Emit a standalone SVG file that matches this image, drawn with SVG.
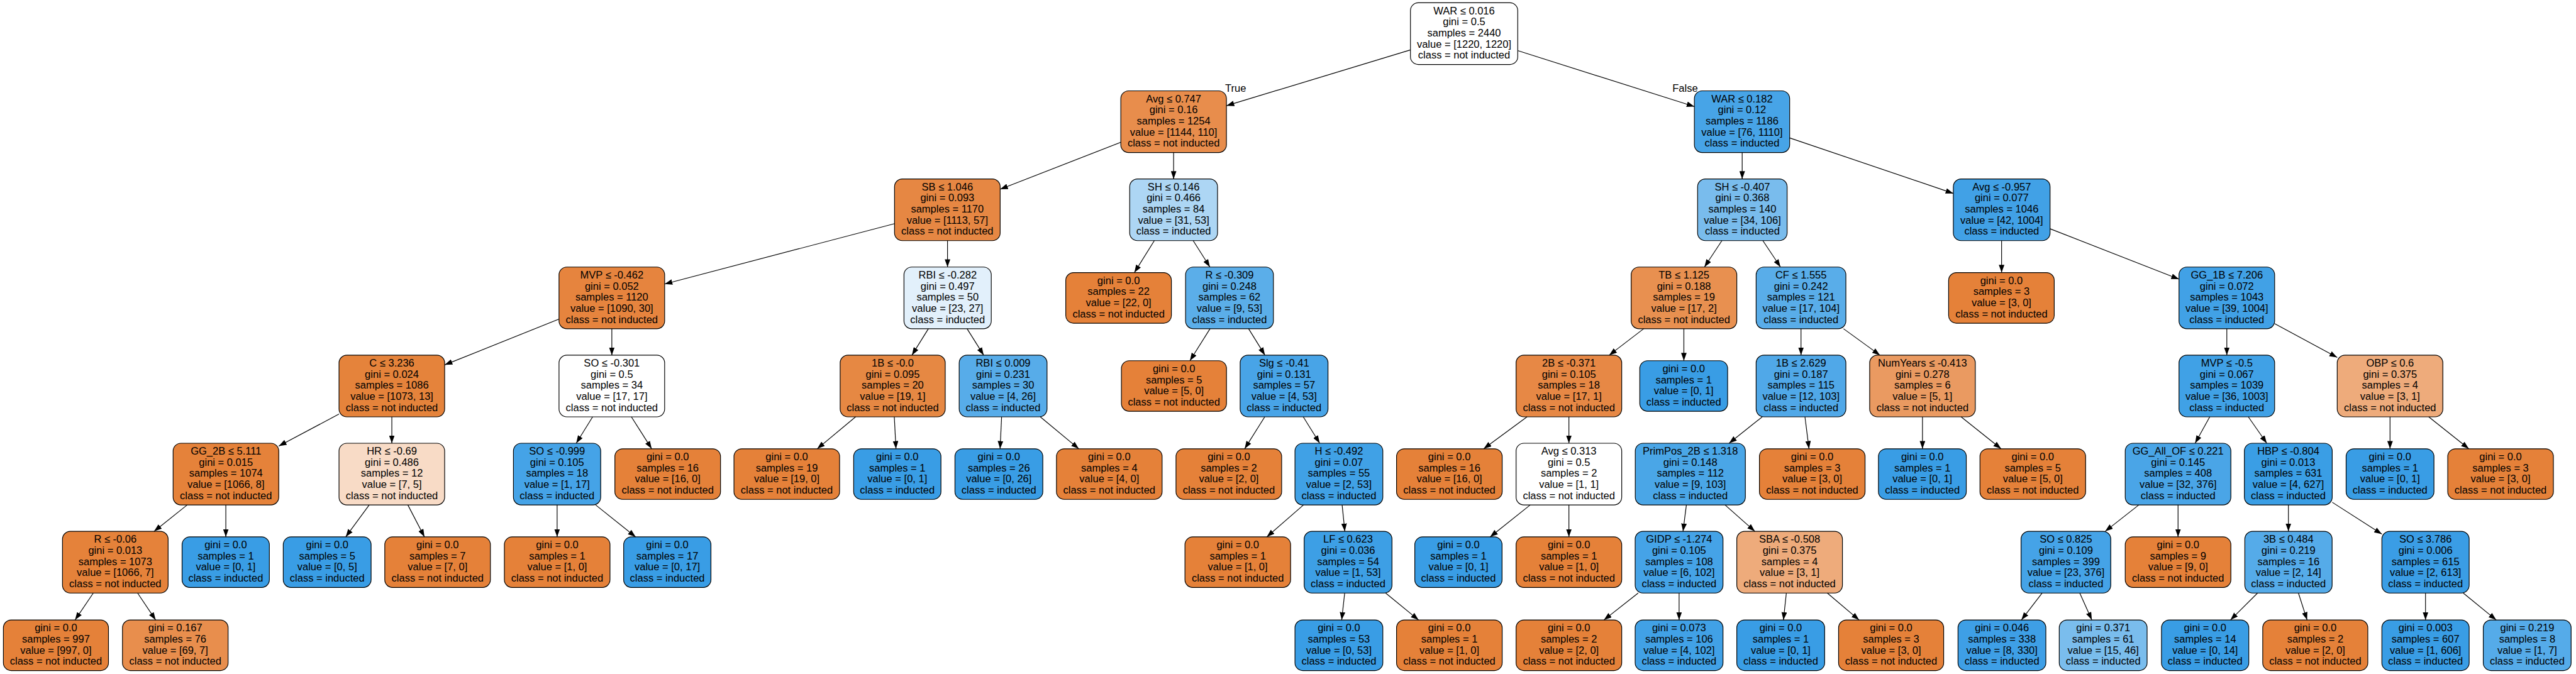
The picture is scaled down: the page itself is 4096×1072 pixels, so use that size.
<svg xmlns="http://www.w3.org/2000/svg" width="4096" height="1072" viewBox="0 0 4096 1072">
<style>
.nd rect{stroke:#000;stroke-width:1.33}
.nd text,.lbl{font-family:"Liberation Sans",Arial,Helvetica,sans-serif;font-size:18.7px;fill:#000}
.nd text{text-anchor:middle}
.lbl{text-anchor:middle}
#edges path{stroke:#000;stroke-width:1.33;fill:none;marker-end:url(#arr)}
</style>
<defs>
<marker id="arr" viewBox="0 0 14 10" refX="14" refY="5" markerWidth="14" markerHeight="10" markerUnits="userSpaceOnUse" orient="auto"><path d="M0,0L14,5L0,10Z" fill="#000"/></marker>
</defs>
<rect width="4096" height="1072" fill="#fff"/>
<g transform="scale(0.884)">
<g id="nodes" class="nd">
<g id="n0"><rect x="2537" y="5" width="193" height="111" rx="14" fill="#ffffff"/><text y="25.5"><tspan x="2633.5">WAR ≤ 0.016</tspan><tspan x="2633.5" dy="20">gini = 0.5</tspan><tspan x="2633.5" dy="20">samples = 2440</tspan><tspan x="2633.5" dy="20">value = [1220, 1220]</tspan><tspan x="2633.5" dy="20">class = not inducted</tspan></text></g>
<g id="n1"><rect x="2016" y="163.5" width="190" height="111" rx="14" fill="#e88d4c"/><text y="184"><tspan x="2111">Avg ≤ 0.747</tspan><tspan x="2111" dy="20">gini = 0.16</tspan><tspan x="2111" dy="20">samples = 1254</tspan><tspan x="2111" dy="20">value = [1144, 110]</tspan><tspan x="2111" dy="20">class = not inducted</tspan></text></g>
<g id="n2"><rect x="3047.7" y="163.5" width="171.4" height="111" rx="14" fill="#47a4e7"/><text y="184"><tspan x="3133.4">WAR ≤ 0.182</tspan><tspan x="3133.4" dy="20">gini = 0.12</tspan><tspan x="3133.4" dy="20">samples = 1186</tspan><tspan x="3133.4" dy="20">value = [76, 1110]</tspan><tspan x="3133.4" dy="20">class = inducted</tspan></text></g>
<g id="n3"><rect x="1609" y="322" width="190" height="111" rx="14" fill="#e68743"/><text y="342.5"><tspan x="1704">SB ≤ 1.046</tspan><tspan x="1704" dy="20">gini = 0.093</tspan><tspan x="1704" dy="20">samples = 1170</tspan><tspan x="1704" dy="20">value = [1113, 57]</tspan><tspan x="1704" dy="20">class = not inducted</tspan></text></g>
<g id="n4"><rect x="2032" y="322" width="158" height="111" rx="14" fill="#add6f4"/><text y="342.5"><tspan x="2111">SH ≤ 0.146</tspan><tspan x="2111" dy="20">gini = 0.466</tspan><tspan x="2111" dy="20">samples = 84</tspan><tspan x="2111" dy="20">value = [31, 53]</tspan><tspan x="2111" dy="20">class = inducted</tspan></text></g>
<g id="n5"><rect x="3053.5" y="322" width="161" height="111" rx="14" fill="#79bced"/><text y="342.5"><tspan x="3134">SH ≤ -0.407</tspan><tspan x="3134" dy="20">gini = 0.368</tspan><tspan x="3134" dy="20">samples = 140</tspan><tspan x="3134" dy="20">value = [34, 106]</tspan><tspan x="3134" dy="20">class = inducted</tspan></text></g>
<g id="n6"><rect x="3513.5" y="322" width="174" height="111" rx="14" fill="#41a1e6"/><text y="342.5"><tspan x="3600.5">Avg ≤ -0.957</tspan><tspan x="3600.5" dy="20">gini = 0.077</tspan><tspan x="3600.5" dy="20">samples = 1046</tspan><tspan x="3600.5" dy="20">value = [42, 1004]</tspan><tspan x="3600.5" dy="20">class = inducted</tspan></text></g>
<g id="n7"><rect x="1005.5" y="480.5" width="190" height="111" rx="14" fill="#e6843e"/><text y="501"><tspan x="1100.5">MVP ≤ -0.462</tspan><tspan x="1100.5" dy="20">gini = 0.052</tspan><tspan x="1100.5" dy="20">samples = 1120</tspan><tspan x="1100.5" dy="20">value = [1090, 30]</tspan><tspan x="1100.5" dy="20">class = not inducted</tspan></text></g>
<g id="n8"><rect x="1626" y="480.5" width="157" height="111" rx="14" fill="#e2f0fb"/><text y="501"><tspan x="1704.5">RBI ≤ -0.282</tspan><tspan x="1704.5" dy="20">gini = 0.497</tspan><tspan x="1704.5" dy="20">samples = 50</tspan><tspan x="1704.5" dy="20">value = [23, 27]</tspan><tspan x="1704.5" dy="20">class = inducted</tspan></text></g>
<g id="n9"><rect x="1917" y="490.5" width="190" height="91" rx="14" fill="#e58139"/><text y="511"><tspan x="2012">gini = 0.0</tspan><tspan x="2012" dy="20">samples = 22</tspan><tspan x="2012" dy="20">value = [22, 0]</tspan><tspan x="2012" dy="20">class = not inducted</tspan></text></g>
<g id="n10"><rect x="2132.5" y="480.5" width="158" height="111" rx="14" fill="#5baee9"/><text y="501"><tspan x="2211.5">R ≤ -0.309</tspan><tspan x="2211.5" dy="20">gini = 0.248</tspan><tspan x="2211.5" dy="20">samples = 62</tspan><tspan x="2211.5" dy="20">value = [9, 53]</tspan><tspan x="2211.5" dy="20">class = inducted</tspan></text></g>
<g id="n11"><rect x="2934" y="480.5" width="190" height="111" rx="14" fill="#e89050"/><text y="501"><tspan x="3029">TB ≤ 1.125</tspan><tspan x="3029" dy="20">gini = 0.188</tspan><tspan x="3029" dy="20">samples = 19</tspan><tspan x="3029" dy="20">value = [17, 2]</tspan><tspan x="3029" dy="20">class = not inducted</tspan></text></g>
<g id="n12"><rect x="3158.8" y="480.5" width="161.4" height="111" rx="14" fill="#59ade9"/><text y="501"><tspan x="3239.5">CF ≤ 1.555</tspan><tspan x="3239.5" dy="20">gini = 0.242</tspan><tspan x="3239.5" dy="20">samples = 121</tspan><tspan x="3239.5" dy="20">value = [17, 104]</tspan><tspan x="3239.5" dy="20">class = inducted</tspan></text></g>
<g id="n13"><rect x="3505" y="490.5" width="190" height="91" rx="14" fill="#e58139"/><text y="511"><tspan x="3600">gini = 0.0</tspan><tspan x="3600" dy="20">samples = 3</tspan><tspan x="3600" dy="20">value = [3, 0]</tspan><tspan x="3600" dy="20">class = not inducted</tspan></text></g>
<g id="n14"><rect x="3919.4" y="480.5" width="172" height="111" rx="14" fill="#41a1e6"/><text y="501"><tspan x="4005.4">GG_1B ≤ 7.206</tspan><tspan x="4005.4" dy="20">gini = 0.072</tspan><tspan x="4005.4" dy="20">samples = 1043</tspan><tspan x="4005.4" dy="20">value = [39, 1004]</tspan><tspan x="4005.4" dy="20">class = inducted</tspan></text></g>
<g id="n15"><rect x="609.8" y="639" width="190" height="111" rx="14" fill="#e5833b"/><text y="659.5"><tspan x="704.8">C ≤ 3.236</tspan><tspan x="704.8" dy="20">gini = 0.024</tspan><tspan x="704.8" dy="20">samples = 1086</tspan><tspan x="704.8" dy="20">value = [1073, 13]</tspan><tspan x="704.8" dy="20">class = not inducted</tspan></text></g>
<g id="n16"><rect x="1005.5" y="639" width="190" height="111" rx="14" fill="#ffffff"/><text y="659.5"><tspan x="1100.5">SO ≤ -0.301</tspan><tspan x="1100.5" dy="20">gini = 0.5</tspan><tspan x="1100.5" dy="20">samples = 34</tspan><tspan x="1100.5" dy="20">value = [17, 17]</tspan><tspan x="1100.5" dy="20">class = not inducted</tspan></text></g>
<g id="n17"><rect x="1511.2" y="639" width="189" height="111" rx="14" fill="#e68843"/><text y="659.5"><tspan x="1605.7">1B ≤ -0.0</tspan><tspan x="1605.7" dy="20">gini = 0.095</tspan><tspan x="1605.7" dy="20">samples = 20</tspan><tspan x="1605.7" dy="20">value = [19, 1]</tspan><tspan x="1605.7" dy="20">class = not inducted</tspan></text></g>
<g id="n18"><rect x="1725.3" y="639" width="158" height="111" rx="14" fill="#57ace9"/><text y="659.5"><tspan x="1804.3">RBI ≤ 0.009</tspan><tspan x="1804.3" dy="20">gini = 0.231</tspan><tspan x="1804.3" dy="20">samples = 30</tspan><tspan x="1804.3" dy="20">value = [4, 26]</tspan><tspan x="1804.3" dy="20">class = inducted</tspan></text></g>
<g id="n19"><rect x="2017.1" y="649" width="189" height="91" rx="14" fill="#e58139"/><text y="669.5"><tspan x="2111.6">gini = 0.0</tspan><tspan x="2111.6" dy="20">samples = 5</tspan><tspan x="2111.6" dy="20">value = [5, 0]</tspan><tspan x="2111.6" dy="20">class = not inducted</tspan></text></g>
<g id="n20"><rect x="2230.7" y="639" width="158" height="111" rx="14" fill="#48a4e7"/><text y="659.5"><tspan x="2309.7">Slg ≤ -0.41</tspan><tspan x="2309.7" dy="20">gini = 0.131</tspan><tspan x="2309.7" dy="20">samples = 57</tspan><tspan x="2309.7" dy="20">value = [4, 53]</tspan><tspan x="2309.7" dy="20">class = inducted</tspan></text></g>
<g id="n21"><rect x="2727" y="639" width="190" height="111" rx="14" fill="#e78845"/><text y="659.5"><tspan x="2822">2B ≤ -0.371</tspan><tspan x="2822" dy="20">gini = 0.105</tspan><tspan x="2822" dy="20">samples = 18</tspan><tspan x="2822" dy="20">value = [17, 1]</tspan><tspan x="2822" dy="20">class = not inducted</tspan></text></g>
<g id="n22"><rect x="2949.5" y="649" width="158" height="91" rx="14" fill="#399de5"/><text y="669.5"><tspan x="3028.5">gini = 0.0</tspan><tspan x="3028.5" dy="20">samples = 1</tspan><tspan x="3028.5" dy="20">value = [0, 1]</tspan><tspan x="3028.5" dy="20">class = inducted</tspan></text></g>
<g id="n23"><rect x="3158.8" y="639" width="161.4" height="111" rx="14" fill="#50a8e8"/><text y="659.5"><tspan x="3239.5">1B ≤ 2.629</tspan><tspan x="3239.5" dy="20">gini = 0.187</tspan><tspan x="3239.5" dy="20">samples = 115</tspan><tspan x="3239.5" dy="20">value = [12, 103]</tspan><tspan x="3239.5" dy="20">class = inducted</tspan></text></g>
<g id="n24"><rect x="3363" y="639" width="190" height="111" rx="14" fill="#ea9a61"/><text y="659.5"><tspan x="3458">NumYears ≤ -0.413</tspan><tspan x="3458" dy="20">gini = 0.278</tspan><tspan x="3458" dy="20">samples = 6</tspan><tspan x="3458" dy="20">value = [5, 1]</tspan><tspan x="3458" dy="20">class = not inducted</tspan></text></g>
<g id="n25"><rect x="3919.4" y="639" width="172" height="111" rx="14" fill="#40a1e6"/><text y="659.5"><tspan x="4005.4">MVP ≤ -0.5</tspan><tspan x="4005.4" dy="20">gini = 0.067</tspan><tspan x="4005.4" dy="20">samples = 1039</tspan><tspan x="4005.4" dy="20">value = [36, 1003]</tspan><tspan x="4005.4" dy="20">class = inducted</tspan></text></g>
<g id="n26"><rect x="4204" y="639" width="190" height="111" rx="14" fill="#eeab7b"/><text y="659.5"><tspan x="4299">OBP ≤ 0.6</tspan><tspan x="4299" dy="20">gini = 0.375</tspan><tspan x="4299" dy="20">samples = 4</tspan><tspan x="4299" dy="20">value = [3, 1]</tspan><tspan x="4299" dy="20">class = not inducted</tspan></text></g>
<g id="n27"><rect x="311.4" y="797.5" width="190" height="111" rx="14" fill="#e5823a"/><text y="818"><tspan x="406.4">GG_2B ≤ 5.111</tspan><tspan x="406.4" dy="20">gini = 0.015</tspan><tspan x="406.4" dy="20">samples = 1074</tspan><tspan x="406.4" dy="20">value = [1066, 8]</tspan><tspan x="406.4" dy="20">class = not inducted</tspan></text></g>
<g id="n28"><rect x="609.8" y="797.5" width="190" height="111" rx="14" fill="#f8dbc6"/><text y="818"><tspan x="704.8">HR ≤ -0.69</tspan><tspan x="704.8" dy="20">gini = 0.486</tspan><tspan x="704.8" dy="20">samples = 12</tspan><tspan x="704.8" dy="20">value = [7, 5]</tspan><tspan x="704.8" dy="20">class = not inducted</tspan></text></g>
<g id="n29"><rect x="923.5" y="797.5" width="157" height="111" rx="14" fill="#45a3e7"/><text y="818"><tspan x="1002">SO ≤ -0.999</tspan><tspan x="1002" dy="20">gini = 0.105</tspan><tspan x="1002" dy="20">samples = 18</tspan><tspan x="1002" dy="20">value = [1, 17]</tspan><tspan x="1002" dy="20">class = inducted</tspan></text></g>
<g id="n30"><rect x="1106" y="807.5" width="190" height="91" rx="14" fill="#e58139"/><text y="828"><tspan x="1201">gini = 0.0</tspan><tspan x="1201" dy="20">samples = 16</tspan><tspan x="1201" dy="20">value = [16, 0]</tspan><tspan x="1201" dy="20">class = not inducted</tspan></text></g>
<g id="n31"><rect x="1320.2" y="807.5" width="190" height="91" rx="14" fill="#e58139"/><text y="828"><tspan x="1415.2">gini = 0.0</tspan><tspan x="1415.2" dy="20">samples = 19</tspan><tspan x="1415.2" dy="20">value = [19, 0]</tspan><tspan x="1415.2" dy="20">class = not inducted</tspan></text></g>
<g id="n32"><rect x="1535.5" y="807.5" width="157" height="91" rx="14" fill="#399de5"/><text y="828"><tspan x="1614">gini = 0.0</tspan><tspan x="1614" dy="20">samples = 1</tspan><tspan x="1614" dy="20">value = [0, 1]</tspan><tspan x="1614" dy="20">class = inducted</tspan></text></g>
<g id="n33"><rect x="1717.7" y="807.5" width="158" height="91" rx="14" fill="#399de5"/><text y="828"><tspan x="1796.7">gini = 0.0</tspan><tspan x="1796.7" dy="20">samples = 26</tspan><tspan x="1796.7" dy="20">value = [0, 26]</tspan><tspan x="1796.7" dy="20">class = inducted</tspan></text></g>
<g id="n34"><rect x="1900.3" y="807.5" width="190" height="91" rx="14" fill="#e58139"/><text y="828"><tspan x="1995.3">gini = 0.0</tspan><tspan x="1995.3" dy="20">samples = 4</tspan><tspan x="1995.3" dy="20">value = [4, 0]</tspan><tspan x="1995.3" dy="20">class = not inducted</tspan></text></g>
<g id="n35"><rect x="2115.3" y="807.5" width="190" height="91" rx="14" fill="#e58139"/><text y="828"><tspan x="2210.3">gini = 0.0</tspan><tspan x="2210.3" dy="20">samples = 2</tspan><tspan x="2210.3" dy="20">value = [2, 0]</tspan><tspan x="2210.3" dy="20">class = not inducted</tspan></text></g>
<g id="n36"><rect x="2329.3" y="797.5" width="158" height="111" rx="14" fill="#40a1e6"/><text y="818"><tspan x="2408.3">H ≤ -0.492</tspan><tspan x="2408.3" dy="20">gini = 0.07</tspan><tspan x="2408.3" dy="20">samples = 55</tspan><tspan x="2408.3" dy="20">value = [2, 53]</tspan><tspan x="2408.3" dy="20">class = inducted</tspan></text></g>
<g id="n37"><rect x="2512" y="807.5" width="190" height="91" rx="14" fill="#e58139"/><text y="828"><tspan x="2607">gini = 0.0</tspan><tspan x="2607" dy="20">samples = 16</tspan><tspan x="2607" dy="20">value = [16, 0]</tspan><tspan x="2607" dy="20">class = not inducted</tspan></text></g>
<g id="n38"><rect x="2727" y="797.5" width="190" height="111" rx="14" fill="#ffffff"/><text y="818"><tspan x="2822">Avg ≤ 0.313</tspan><tspan x="2822" dy="20">gini = 0.5</tspan><tspan x="2822" dy="20">samples = 2</tspan><tspan x="2822" dy="20">value = [1, 1]</tspan><tspan x="2822" dy="20">class = not inducted</tspan></text></g>
<g id="n39"><rect x="2941.4" y="797.5" width="198" height="111" rx="14" fill="#4aa6e7"/><text y="818"><tspan x="3040.4">PrimPos_2B ≤ 1.318</tspan><tspan x="3040.4" dy="20">gini = 0.148</tspan><tspan x="3040.4" dy="20">samples = 112</tspan><tspan x="3040.4" dy="20">value = [9, 103]</tspan><tspan x="3040.4" dy="20">class = inducted</tspan></text></g>
<g id="n40"><rect x="3164.7" y="807.5" width="190" height="91" rx="14" fill="#e58139"/><text y="828"><tspan x="3259.7">gini = 0.0</tspan><tspan x="3259.7" dy="20">samples = 3</tspan><tspan x="3259.7" dy="20">value = [3, 0]</tspan><tspan x="3259.7" dy="20">class = not inducted</tspan></text></g>
<g id="n41"><rect x="3378.8" y="807.5" width="158" height="91" rx="14" fill="#399de5"/><text y="828"><tspan x="3457.8">gini = 0.0</tspan><tspan x="3457.8" dy="20">samples = 1</tspan><tspan x="3457.8" dy="20">value = [0, 1]</tspan><tspan x="3457.8" dy="20">class = inducted</tspan></text></g>
<g id="n42"><rect x="3561.4" y="807.5" width="190" height="91" rx="14" fill="#e58139"/><text y="828"><tspan x="3656.4">gini = 0.0</tspan><tspan x="3656.4" dy="20">samples = 5</tspan><tspan x="3656.4" dy="20">value = [5, 0]</tspan><tspan x="3656.4" dy="20">class = not inducted</tspan></text></g>
<g id="n43"><rect x="3822.7" y="797.5" width="190" height="111" rx="14" fill="#4aa5e7"/><text y="818"><tspan x="3917.7">GG_All_OF ≤ 0.221</tspan><tspan x="3917.7" dy="20">gini = 0.145</tspan><tspan x="3917.7" dy="20">samples = 408</tspan><tspan x="3917.7" dy="20">value = [32, 376]</tspan><tspan x="3917.7" dy="20">class = inducted</tspan></text></g>
<g id="n44"><rect x="4037" y="797.5" width="158" height="111" rx="14" fill="#3a9ee5"/><text y="818"><tspan x="4116">HBP ≤ -0.804</tspan><tspan x="4116" dy="20">gini = 0.013</tspan><tspan x="4116" dy="20">samples = 631</tspan><tspan x="4116" dy="20">value = [4, 627]</tspan><tspan x="4116" dy="20">class = inducted</tspan></text></g>
<g id="n45"><rect x="4220" y="807.5" width="158" height="91" rx="14" fill="#399de5"/><text y="828"><tspan x="4299">gini = 0.0</tspan><tspan x="4299" dy="20">samples = 1</tspan><tspan x="4299" dy="20">value = [0, 1]</tspan><tspan x="4299" dy="20">class = inducted</tspan></text></g>
<g id="n46"><rect x="4402.8" y="807.5" width="190" height="91" rx="14" fill="#e58139"/><text y="828"><tspan x="4497.8">gini = 0.0</tspan><tspan x="4497.8" dy="20">samples = 3</tspan><tspan x="4497.8" dy="20">value = [3, 0]</tspan><tspan x="4497.8" dy="20">class = not inducted</tspan></text></g>
<g id="n47"><rect x="112.4" y="956" width="190" height="111" rx="14" fill="#e5823a"/><text y="976.5"><tspan x="207.4">R ≤ -0.06</tspan><tspan x="207.4" dy="20">gini = 0.013</tspan><tspan x="207.4" dy="20">samples = 1073</tspan><tspan x="207.4" dy="20">value = [1066, 7]</tspan><tspan x="207.4" dy="20">class = not inducted</tspan></text></g>
<g id="n48"><rect x="327.5" y="966" width="157" height="91" rx="14" fill="#399de5"/><text y="986.5"><tspan x="406">gini = 0.0</tspan><tspan x="406" dy="20">samples = 1</tspan><tspan x="406" dy="20">value = [0, 1]</tspan><tspan x="406" dy="20">class = inducted</tspan></text></g>
<g id="n49"><rect x="509.5" y="966" width="158" height="91" rx="14" fill="#399de5"/><text y="986.5"><tspan x="588.5">gini = 0.0</tspan><tspan x="588.5" dy="20">samples = 5</tspan><tspan x="588.5" dy="20">value = [0, 5]</tspan><tspan x="588.5" dy="20">class = inducted</tspan></text></g>
<g id="n50"><rect x="692.1" y="966" width="190" height="91" rx="14" fill="#e58139"/><text y="986.5"><tspan x="787.1">gini = 0.0</tspan><tspan x="787.1" dy="20">samples = 7</tspan><tspan x="787.1" dy="20">value = [7, 0]</tspan><tspan x="787.1" dy="20">class = not inducted</tspan></text></g>
<g id="n51"><rect x="907.2" y="966" width="190" height="91" rx="14" fill="#e58139"/><text y="986.5"><tspan x="1002.2">gini = 0.0</tspan><tspan x="1002.2" dy="20">samples = 1</tspan><tspan x="1002.2" dy="20">value = [1, 0]</tspan><tspan x="1002.2" dy="20">class = not inducted</tspan></text></g>
<g id="n52"><rect x="1121.8" y="966" width="157" height="91" rx="14" fill="#399de5"/><text y="986.5"><tspan x="1200.3">gini = 0.0</tspan><tspan x="1200.3" dy="20">samples = 17</tspan><tspan x="1200.3" dy="20">value = [0, 17]</tspan><tspan x="1200.3" dy="20">class = inducted</tspan></text></g>
<g id="n53"><rect x="2131.4" y="966" width="190" height="91" rx="14" fill="#e58139"/><text y="986.5"><tspan x="2226.4">gini = 0.0</tspan><tspan x="2226.4" dy="20">samples = 1</tspan><tspan x="2226.4" dy="20">value = [1, 0]</tspan><tspan x="2226.4" dy="20">class = not inducted</tspan></text></g>
<g id="n54"><rect x="2345.8" y="956" width="158" height="111" rx="14" fill="#3d9fe5"/><text y="976.5"><tspan x="2424.8">LF ≤ 0.623</tspan><tspan x="2424.8" dy="20">gini = 0.036</tspan><tspan x="2424.8" dy="20">samples = 54</tspan><tspan x="2424.8" dy="20">value = [1, 53]</tspan><tspan x="2424.8" dy="20">class = inducted</tspan></text></g>
<g id="n55"><rect x="2544.8" y="966" width="157" height="91" rx="14" fill="#399de5"/><text y="986.5"><tspan x="2623.3">gini = 0.0</tspan><tspan x="2623.3" dy="20">samples = 1</tspan><tspan x="2623.3" dy="20">value = [0, 1]</tspan><tspan x="2623.3" dy="20">class = inducted</tspan></text></g>
<g id="n56"><rect x="2727" y="966" width="190" height="91" rx="14" fill="#e58139"/><text y="986.5"><tspan x="2822">gini = 0.0</tspan><tspan x="2822" dy="20">samples = 1</tspan><tspan x="2822" dy="20">value = [1, 0]</tspan><tspan x="2822" dy="20">class = not inducted</tspan></text></g>
<g id="n57"><rect x="2941.2" y="956" width="158" height="111" rx="14" fill="#45a3e7"/><text y="976.5"><tspan x="3020.2">GIDP ≤ -1.274</tspan><tspan x="3020.2" dy="20">gini = 0.105</tspan><tspan x="3020.2" dy="20">samples = 108</tspan><tspan x="3020.2" dy="20">value = [6, 102]</tspan><tspan x="3020.2" dy="20">class = inducted</tspan></text></g>
<g id="n58"><rect x="3124" y="956" width="190" height="111" rx="14" fill="#eeab7b"/><text y="976.5"><tspan x="3219">SBA ≤ -0.508</tspan><tspan x="3219" dy="20">gini = 0.375</tspan><tspan x="3219" dy="20">samples = 4</tspan><tspan x="3219" dy="20">value = [3, 1]</tspan><tspan x="3219" dy="20">class = not inducted</tspan></text></g>
<g id="n59"><rect x="3635.3" y="956" width="161.4" height="111" rx="14" fill="#45a3e7"/><text y="976.5"><tspan x="3716">SO ≤ 0.825</tspan><tspan x="3716" dy="20">gini = 0.109</tspan><tspan x="3716" dy="20">samples = 399</tspan><tspan x="3716" dy="20">value = [23, 376]</tspan><tspan x="3716" dy="20">class = inducted</tspan></text></g>
<g id="n60"><rect x="3822.7" y="966" width="190" height="91" rx="14" fill="#e58139"/><text y="986.5"><tspan x="3917.7">gini = 0.0</tspan><tspan x="3917.7" dy="20">samples = 9</tspan><tspan x="3917.7" dy="20">value = [9, 0]</tspan><tspan x="3917.7" dy="20">class = not inducted</tspan></text></g>
<g id="n61"><rect x="4037.8" y="956" width="157" height="111" rx="14" fill="#55abe9"/><text y="976.5"><tspan x="4116.3">3B ≤ 0.484</tspan><tspan x="4116.3" dy="20">gini = 0.219</tspan><tspan x="4116.3" dy="20">samples = 16</tspan><tspan x="4116.3" dy="20">value = [2, 14]</tspan><tspan x="4116.3" dy="20">class = inducted</tspan></text></g>
<g id="n62"><rect x="4284.3" y="956" width="157" height="111" rx="14" fill="#3a9de5"/><text y="976.5"><tspan x="4362.8">SO ≤ 3.786</tspan><tspan x="4362.8" dy="20">gini = 0.006</tspan><tspan x="4362.8" dy="20">samples = 615</tspan><tspan x="4362.8" dy="20">value = [2, 613]</tspan><tspan x="4362.8" dy="20">class = inducted</tspan></text></g>
<g id="n63"><rect x="6.1" y="1115.5" width="189" height="91" rx="14" fill="#e58139"/><text y="1136"><tspan x="100.6">gini = 0.0</tspan><tspan x="100.6" dy="20">samples = 997</tspan><tspan x="100.6" dy="20">value = [997, 0]</tspan><tspan x="100.6" dy="20">class = not inducted</tspan></text></g>
<g id="n64"><rect x="220.3" y="1115.5" width="190" height="91" rx="14" fill="#e88e4d"/><text y="1136"><tspan x="315.3">gini = 0.167</tspan><tspan x="315.3" dy="20">samples = 76</tspan><tspan x="315.3" dy="20">value = [69, 7]</tspan><tspan x="315.3" dy="20">class = not inducted</tspan></text></g>
<g id="n65"><rect x="2329.3" y="1115.5" width="158" height="91" rx="14" fill="#399de5"/><text y="1136"><tspan x="2408.3">gini = 0.0</tspan><tspan x="2408.3" dy="20">samples = 53</tspan><tspan x="2408.3" dy="20">value = [0, 53]</tspan><tspan x="2408.3" dy="20">class = inducted</tspan></text></g>
<g id="n66"><rect x="2512" y="1115.5" width="190" height="91" rx="14" fill="#e58139"/><text y="1136"><tspan x="2607">gini = 0.0</tspan><tspan x="2607" dy="20">samples = 1</tspan><tspan x="2607" dy="20">value = [1, 0]</tspan><tspan x="2607" dy="20">class = not inducted</tspan></text></g>
<g id="n67"><rect x="2727" y="1115.5" width="190" height="91" rx="14" fill="#e58139"/><text y="1136"><tspan x="2822">gini = 0.0</tspan><tspan x="2822" dy="20">samples = 2</tspan><tspan x="2822" dy="20">value = [2, 0]</tspan><tspan x="2822" dy="20">class = not inducted</tspan></text></g>
<g id="n68"><rect x="2941.2" y="1115.5" width="158" height="91" rx="14" fill="#41a1e6"/><text y="1136"><tspan x="3020.2">gini = 0.073</tspan><tspan x="3020.2" dy="20">samples = 106</tspan><tspan x="3020.2" dy="20">value = [4, 102]</tspan><tspan x="3020.2" dy="20">class = inducted</tspan></text></g>
<g id="n69"><rect x="3124" y="1115.5" width="158" height="91" rx="14" fill="#399de5"/><text y="1136"><tspan x="3203">gini = 0.0</tspan><tspan x="3203" dy="20">samples = 1</tspan><tspan x="3203" dy="20">value = [0, 1]</tspan><tspan x="3203" dy="20">class = inducted</tspan></text></g>
<g id="n70"><rect x="3307.1" y="1115.5" width="189" height="91" rx="14" fill="#e58139"/><text y="1136"><tspan x="3401.6">gini = 0.0</tspan><tspan x="3401.6" dy="20">samples = 3</tspan><tspan x="3401.6" dy="20">value = [3, 0]</tspan><tspan x="3401.6" dy="20">class = not inducted</tspan></text></g>
<g id="n71"><rect x="3521.9" y="1115.5" width="158" height="91" rx="14" fill="#3e9fe6"/><text y="1136"><tspan x="3600.9">gini = 0.046</tspan><tspan x="3600.9" dy="20">samples = 338</tspan><tspan x="3600.9" dy="20">value = [8, 330]</tspan><tspan x="3600.9" dy="20">class = inducted</tspan></text></g>
<g id="n72"><rect x="3704" y="1115.5" width="158" height="91" rx="14" fill="#7abded"/><text y="1136"><tspan x="3783">gini = 0.371</tspan><tspan x="3783" dy="20">samples = 61</tspan><tspan x="3783" dy="20">value = [15, 46]</tspan><tspan x="3783" dy="20">class = inducted</tspan></text></g>
<g id="n73"><rect x="3887.9" y="1115.5" width="157" height="91" rx="14" fill="#399de5"/><text y="1136"><tspan x="3966.4">gini = 0.0</tspan><tspan x="3966.4" dy="20">samples = 14</tspan><tspan x="3966.4" dy="20">value = [0, 14]</tspan><tspan x="3966.4" dy="20">class = inducted</tspan></text></g>
<g id="n74"><rect x="4070" y="1115.5" width="189" height="91" rx="14" fill="#e58139"/><text y="1136"><tspan x="4164.5">gini = 0.0</tspan><tspan x="4164.5" dy="20">samples = 2</tspan><tspan x="4164.5" dy="20">value = [2, 0]</tspan><tspan x="4164.5" dy="20">class = not inducted</tspan></text></g>
<g id="n75"><rect x="4284.3" y="1115.5" width="157" height="91" rx="14" fill="#399de5"/><text y="1136"><tspan x="4362.8">gini = 0.003</tspan><tspan x="4362.8" dy="20">samples = 607</tspan><tspan x="4362.8" dy="20">value = [1, 606]</tspan><tspan x="4362.8" dy="20">class = inducted</tspan></text></g>
<g id="n76"><rect x="4466.7" y="1115.5" width="158" height="91" rx="14" fill="#55abe9"/><text y="1136"><tspan x="4545.7">gini = 0.219</tspan><tspan x="4545.7" dy="20">samples = 8</tspan><tspan x="4545.7" dy="20">value = [1, 7]</tspan><tspan x="4545.7" dy="20">class = inducted</tspan></text></g>
</g>
<g id="edges">
<path d="M2537,89.8L2206,190.2"/>
<path d="M2730,91.1L3047.7,191.8"/>
<path d="M2016,256L1799,340.5"/>
<path d="M2111,274.5L2111,322"/>
<path d="M3133.7,274.5L3133.7,322"/>
<path d="M3219.1,248.1L3513.5,348"/>
<path d="M1609,402.4L1195.5,511"/>
<path d="M1704.3,433L1704.3,480.5"/>
<path d="M2076.3,433L2040.4,490.5"/>
<path d="M2146.2,433L2176.3,480.5"/>
<path d="M3097.2,433L3065.8,480.5"/>
<path d="M3170.9,433L3202.6,480.5"/>
<path d="M3600.3,433L3600.3,490.5"/>
<path d="M3687.5,411.6L3919.4,502.3"/>
<path d="M1005.5,574.1L799.8,656.5"/>
<path d="M1100.5,591.5L1100.5,639"/>
<path d="M1669.9,591.5L1640.3,639"/>
<path d="M1739.5,591.5L1769.4,639"/>
<path d="M2176.5,591.5L2140.3,649"/>
<path d="M2245.9,591.5L2275.3,639"/>
<path d="M2956.5,591.5L2894.5,639"/>
<path d="M3028.8,591.5L3028.8,649"/>
<path d="M3239.5,591.5L3239.5,639"/>
<path d="M3316,591.5L3381.5,639"/>
<path d="M4005.4,591.5L4005.4,639"/>
<path d="M4091.4,582.4L4204,643.2"/>
<path d="M609.8,745L501.4,802.5"/>
<path d="M704.8,750L704.8,797.5"/>
<path d="M1066,750L1036.5,797.5"/>
<path d="M1135.7,750L1172.2,807.5"/>
<path d="M1539,750L1469.9,807.5"/>
<path d="M1608.6,750L1611.6,807.5"/>
<path d="M1801.6,750L1798.9,807.5"/>
<path d="M1871.2,750L1940.5,807.5"/>
<path d="M2274.9,750L2238.8,807.5"/>
<path d="M2344.2,750L2373.8,797.5"/>
<path d="M2746.7,750L2668.7,807.5"/>
<path d="M2822,750L2822,797.5"/>
<path d="M3169.8,750L3110.1,797.5"/>
<path d="M3246.6,750L3253.9,807.5"/>
<path d="M3458,750L3458,807.5"/>
<path d="M3527.5,750L3599.4,807.5"/>
<path d="M3974.7,750L3948.4,797.5"/>
<path d="M4044.1,750L4077.3,797.5"/>
<path d="M4299,750L4299,807.5"/>
<path d="M4368.6,750L4440.7,807.5"/>
<path d="M336.7,908.5L277.1,956"/>
<path d="M406.2,908.5L406.2,966"/>
<path d="M664.1,908.5L621.9,966"/>
<path d="M733.6,908.5L763.5,966"/>
<path d="M1002.1,908.5L1002.1,966"/>
<path d="M1071.4,908.5L1143.4,966"/>
<path d="M2344.6,908.5L2278.6,966"/>
<path d="M2414.1,908.5L2419,956"/>
<path d="M2752.4,908.5L2680.3,966"/>
<path d="M2822,908.5L2822,966"/>
<path d="M3033.3,908.5L3027.3,956"/>
<path d="M3102.9,908.5L3156.5,956"/>
<path d="M3847.1,908.5L3786.6,956"/>
<path d="M3917.7,908.5L3917.7,966"/>
<path d="M4116.2,908.5L4116.2,956"/>
<path d="M4195,903.7L4284.3,961.1"/>
<path d="M167.8,1067L135,1115.5"/>
<path d="M247.5,1067L280,1115.5"/>
<path d="M2418.7,1067L2413.3,1115.5"/>
<path d="M2492.4,1067L2551.6,1115.5"/>
<path d="M2946.6,1067L2885,1115.5"/>
<path d="M3020.2,1067L3020.2,1115.5"/>
<path d="M3213.1,1067L3207.9,1115.5"/>
<path d="M3286.8,1067L3344,1115.5"/>
<path d="M3673.3,1067L3635.9,1115.5"/>
<path d="M3740.9,1067L3762.6,1115.5"/>
<path d="M4060.7,1067L4012,1115.5"/>
<path d="M4134.2,1067L4149.8,1115.5"/>
<path d="M4362.8,1067L4362.8,1115.5"/>
<path d="M4430.7,1067L4490,1115.5"/>
<text class="lbl" x="2222.5" y="165">True</text>
<text class="lbl" x="3031" y="165">False</text>
</g>
</g>
</svg>
